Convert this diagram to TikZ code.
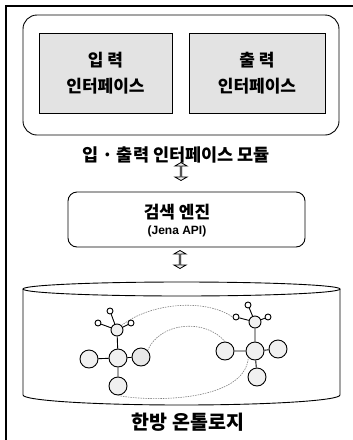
\documentclass[tikz,border=0pt]{standalone}
\usepackage{fontspec}
\newfontfamily\kr{Noto Sans CJK KR}
\newfontfamily\jena{Liberation Sans}
\usetikzlibrary{shapes.arrows}
\begin{document}
\begin{tikzpicture}[x=1pt,y=-1pt,
  frame/.style={line width=1.3pt},
  panel/.style={draw, line width=0.9pt, rounded corners=14pt, inner sep=0pt},
  ifbox/.style={draw, line width=1pt, fill=gray!22, minimum height=80pt, inner sep=0pt,
    font=\kr\bfseries\fontsize{17}{26}\selectfont, align=center},
  lbl/.style={font=\kr\bfseries\fontsize{17.5}{20}\selectfont, inner sep=0pt},
  blockarrow/.style={draw, line width=0.8pt, fill=gray!12, double arrow, shape border rotate=90,
    minimum height=18pt, minimum width=12pt, double arrow head extend=3pt,
    double arrow tip angle=120, inner sep=0pt},
  big/.style={circle, draw, line width=0.9pt, fill=gray!12, minimum size=18pt, inner sep=0pt},
  hub/.style={circle, draw, line width=0.9pt, fill=gray!12, minimum size=12pt, inner sep=0pt},
  tiny/.style={circle, draw, line width=0.9pt, fill=white, minimum size=6pt, inner sep=0pt},
  bond/.style={line width=0.9pt},
  link/.style={gray, line width=0.6pt, dash pattern=on 1.5pt off 1pt}
]
\useasboundingbox (0,0) rectangle (353,440);
% outer frame (top and left only)
\draw[frame] (353,6) -- (6,6) -- (6,440);

% I/O module panel
\node[panel, minimum width=316pt, minimum height=120pt] (iomod) at (181,75) {};
\node[ifbox, minimum width=133pt] (inif) at (105.5,73) {입 력\\인터페이스};
\node[ifbox, minimum width=136pt] (outif) at (257,73) {출 력\\인터페이스};
\node[lbl] (iolabel) at (176,155) {입 · 출력 인터페이스 모듈};

\node[blockarrow] (arr1) at (181,171.5) {};

% search engine
\node[panel, rounded corners=9pt, minimum width=237pt, minimum height=55pt] (engine) at (186.5,219.5) {};
\node[lbl, font=\kr\bfseries\fontsize{17}{20}\selectfont] (enginetext) at (177,212) {검색 엔진};
\node[inner sep=0pt, font=\jena\bfseries\fontsize{12}{14}\selectfont] (jenatext) at (177,231) {(Jena API)};

\node[blockarrow] (arr2) at (180,259.5) {};

% ontology cylinder
\draw[line width=0.9pt] (181.5,289) ellipse [x radius=158.5pt, y radius=7pt];
\draw[line width=0.9pt] (23,289) -- (23,395)
  arc[start angle=180, end angle=360, x radius=158.5pt, y radius=10pt] -- (340,289);

% left molecule
\node[big] (lc) at (118,358) {};
\node[big] (ll) at (89,359) {};
\node[big, fill=gray!18] (lr) at (141,357) {};
\node[big] (lb) at (118,386) {};
\node[hub] (lh) at (117,330) {};
\node[tiny] (lt1) at (110,311) {};
\node[tiny] (lt2) at (98,323) {};
\node[tiny] (lt3) at (131,323) {};
\draw[bond] (lc) -- (ll) (lc) -- (lr) (lc) -- (lb) (lc) -- (lh)
  (lh) -- (lt1) (lh) -- (lt2) (lh) -- (lt3);

% right molecule
\node[big] (rc) at (255,351) {};
\node[big] (rl) at (225,351) {};
\node[big] (rr) at (278,349) {};
\node[big] (rb) at (257,377) {};
\node[hub] (rh) at (255,322) {};
\node[tiny] (rt1) at (248,305) {};
\node[tiny] (rt2) at (236,317) {};
\node[tiny] (rt3) at (268,317) {};
\draw[bond] (rc) -- (rl) (rc) -- (rr) (rc) -- (rb) (rc) -- (rh)
  (rh) -- (rt1) (rh) -- (rt2) (rh) -- (rt3);

% dashed links
\draw[link] (lh.north east) .. controls (150,303) and (205,298) .. (rt2.west);
\draw[link] (lr.north east) .. controls (160,322) and (205,318) .. (rl.north);
\draw[link] (lb.south) .. controls (150,402) and (245,402) .. (rc.south west);

\node[lbl, font=\kr\bfseries\fontsize{19.5}{22}\selectfont] (ontolabel) at (188,422) {한방 온톨로지};
\end{tikzpicture}
\end{document}
